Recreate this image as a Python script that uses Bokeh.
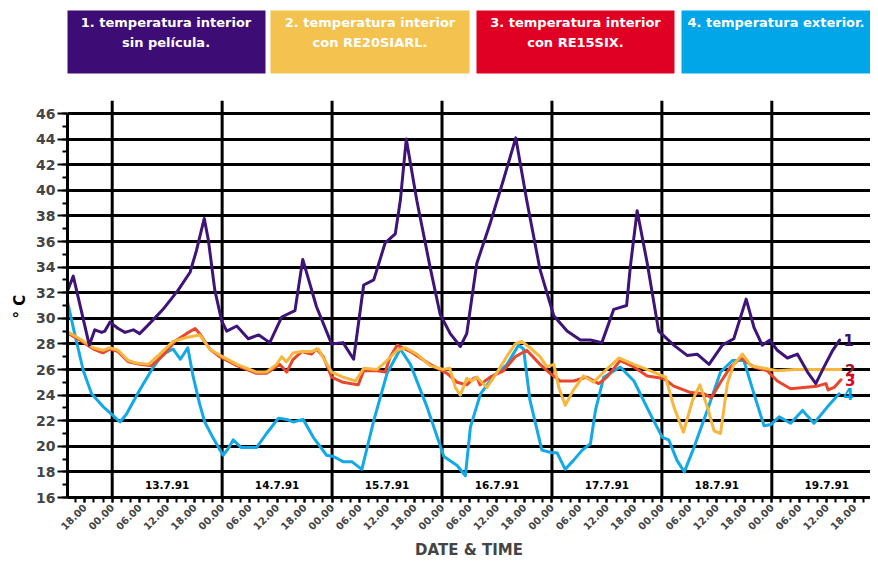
import math
from bokeh.plotting import figure
from bokeh.models import Range1d, FixedTicker, SingleIntervalTicker, Title
from bokeh.core.properties import value
from bokeh.embed import file_html
from bokeh.resources import INLINE

FONT = "DejaVu Sans"

# ---------------- data (hours from 13.7.91 00:00) ----------------
h1 = [-10.0, -8.5, -5.0, -3.8, -2.3, -1.6, -0.5, 1.3, 2.8, 4.6, 6.0, 8.2, 11.1, 14.4, 17.0, 18.4, 20.1, 21.0,
      22.4, 23.9, 25.0, 27.2, 29.7, 32.0, 34.4, 37.0, 39.9, 41.6, 44.6, 47.9, 50.4, 52.7, 54.9, 57.1, 59.6, 61.8,
      62.9, 64.2, 66.5, 69.4, 71.6, 73.8, 76.0, 77.4, 79.6, 82.5, 85.4, 88.1, 90.5, 93.4, 96.4, 99.3, 102.2,
      104.4, 106.9, 109.5, 112.3, 113.1, 114.6, 116.8, 119.3, 122.6, 125.5, 127.7, 130.3, 133.2, 135.7, 138.4,
      140.1, 141.9, 143.6, 145.2, 147.4, 149.6, 151.8, 153.6, 155.4, 157.3, 158.8]
t1 = [31.9, 33.3, 27.9, 29.1, 28.9, 29.0, 29.7, 29.2, 28.9, 29.1, 28.8, 29.6, 30.7, 32.2, 33.6, 35.3, 37.8, 36.1,
      32.2, 29.8, 29.0, 29.4, 28.4, 28.7, 28.1, 30.1, 30.6, 34.6, 30.9, 28.0, 28.1, 26.8, 32.6, 33.0, 35.9, 36.6,
      39.2, 44.0, 39.2, 34.0, 30.3, 28.8, 27.8, 28.8, 34.3, 37.4, 40.8, 44.1, 39.2, 33.8, 30.2, 29.0, 28.3,
      28.3, 28.1, 30.7, 31.0, 34.0, 38.4, 34.3, 29.0, 27.9, 27.1, 27.2, 26.4, 27.9, 28.4, 31.5,
      29.3, 27.9, 28.3, 27.5, 26.9, 27.2, 25.8, 24.9, 26.2, 27.5, 28.3]

h2 = [-10.0, -7.1, -4.1, -2.0, -0.5, 1.3, 3.5, 5.3, 7.9, 10.4, 13.3, 16.2, 19.1, 21.3, 23.6, 27.2, 31.5, 33.7,
      35.9, 37.0, 38.0, 39.5, 41.4, 43.5, 45.0, 46.1, 47.9, 50.4, 53.1, 54.9, 57.8, 60.0, 62.2, 64.0, 66.5, 69.4,
      72.3, 73.7, 74.9, 76.0, 77.4, 78.5, 79.6, 81.8, 83.9, 86.1, 88.0, 89.4, 91.2, 93.4, 94.9, 96.4, 97.5, 98.9,
      100.7, 102.9, 105.1, 107.3, 110.6, 113.9, 117.5, 120.8, 122.6, 124.7, 126.7, 128.3, 129.9, 131.4, 132.8,
      134.3, 135.7, 137.6, 139.4, 142.3, 145.2, 148.9, 155.4, 159.1]
t2 = [29.0, 28.4, 27.7, 27.5, 27.7, 27.5, 26.7, 26.5, 26.4, 27.2, 28.2, 28.5, 28.7, 27.6, 27.1, 26.4, 25.8, 25.8,
      26.4, 27.0, 26.6, 27.3, 27.4, 27.4, 27.6, 26.9, 25.8, 25.4, 25.1, 26.1, 26.0, 26.7, 27.5, 27.7, 27.2, 26.3,
      26.0, 26.1, 24.6, 24.0, 25.3, 25.1, 25.4, 24.6, 25.7, 27.0, 28.0, 28.2, 27.7, 27.0, 26.2, 26.4, 24.6, 23.2,
      24.4, 25.5, 25.0, 25.8, 26.9, 26.4, 25.9, 25.4, 23.1, 21.1, 23.6, 24.8, 23.1, 21.2, 21.0,
      24.9, 26.4, 27.2, 26.3, 26.1, 25.9, 26.0, 26.0, 26.0]

h3 = [-10.0, -7.1, -4.1, -2.0, -0.5, 1.3, 3.5, 6.0, 8.6, 11.1, 13.7, 16.2, 18.1, 19.1, 21.3, 23.5, 27.2, 31.5,
      33.7, 36.6, 38.1, 39.5, 41.4, 43.5, 44.6, 46.1, 47.9, 50.4, 53.7, 54.9, 57.8, 59.6, 60.7, 62.2, 65.1, 69.4,
      73.1, 75.3, 77.4, 78.9, 79.6, 80.3, 82.5, 85.4, 88.0, 90.5, 93.4, 95.6, 97.8, 100.7, 103.6, 106.2, 108.0,
      110.9, 113.9, 116.8, 120.4, 122.6, 126.3, 129.2, 130.8, 132.8, 135.0, 137.2, 140.1, 143.0, 145.2, 148.1,
      151.0, 153.9, 155.8, 156.3, 157.6, 159.1]
t3 = [28.9, 28.3, 27.6, 27.3, 27.6, 27.4, 26.6, 26.4, 26.3, 27.1, 28.2, 28.8, 29.2, 28.8, 27.6, 27.0, 26.3, 25.7,
      25.7, 26.4, 25.8, 26.8, 27.4, 27.2, 27.6, 27.0, 25.4, 25.0, 24.8, 25.9, 25.9, 25.8, 27.0, 27.9, 27.4, 26.4,
      25.7, 25.0, 24.8, 25.3, 25.4, 24.8, 25.4, 25.9, 27.0, 27.5, 26.4, 25.7, 25.1, 25.1, 25.4, 24.9, 25.4,
      26.7, 26.2, 25.5, 25.3, 24.7, 24.2, 24.1, 23.8, 25.0, 26.2, 26.9, 26.2, 25.9, 25.1, 24.5,
      24.6, 24.7, 24.9, 24.4, 24.6, 25.2]

h4 = [-10.0, -8.2, -6.3, -4.5, -2.0, -0.1, 1.7, 3.1, 6.0, 9.0, 11.1, 13.3, 14.9, 16.5, 17.7, 19.1, 20.2, 22.1,
      24.2, 25.3, 26.4, 28.2, 31.5, 33.7, 36.3, 38.1, 39.5, 41.7, 43.9, 46.8, 48.3, 50.4, 52.3, 54.5, 57.1, 60.0,
      62.9, 65.1, 68.7, 72.4, 75.3, 77.1, 78.2, 80.4, 83.3, 86.2, 88.7, 89.8, 91.2, 93.8, 96.0, 97.1, 98.9, 100.7,
      102.6, 104.4, 105.5, 107.3, 110.9, 113.9, 117.5, 120.1, 121.5, 123.3, 124.9, 127.0, 129.9, 132.8, 135.4,
      137.9, 140.1, 142.3, 143.8, 145.6, 148.1, 150.7, 153.2, 156.2, 158.7]
t4 = [31.7, 28.8, 25.9, 24.1, 23.1, 22.5, 21.9, 22.5, 24.4, 26.2, 27.2, 27.6, 26.8, 27.7, 25.4, 23.3, 21.9, 20.6,
      19.3, 19.8, 20.5, 19.9, 19.9, 21.0, 22.2, 22.1, 21.9, 22.1, 20.7, 19.3, 19.2, 18.8, 18.8, 18.2, 22.0, 25.7,
      27.6, 26.4, 23.1, 19.2, 18.5, 17.7, 21.5, 24.1, 25.5, 26.4, 27.9, 27.6, 23.6, 19.7, 19.5, 19.5, 18.2, 18.9,
      19.7, 20.2, 22.8, 25.4, 26.2, 25.1, 22.5, 20.7, 20.5, 18.9, 18.0, 19.9, 22.8, 25.8, 26.7,
      26.7, 24.1, 21.6, 21.7, 22.3, 21.8, 22.8, 21.8, 23.1, 24.1]

legend_line1 = ["1. temperatura interior", "2. temperatura interior", "3. temperatura interior",
                "4. temperatura exterior."]
legend_line2 = ["sin película.", "con RE20SIARL.", "con RE15SIX.", ""]
end_labels = ["1", "2", "3", "4"]
days = ["13.7.91", "14.7.91", "15.7.91", "16.7.91", "17.7.91", "18.7.91", "19.7.91"]
major_hours = list(range(-6, 168, 6))
minor_hours = list(range(-8, 168, 2))
day_bounds = list(range(0, 168, 24))

box_colors = ["#3E0C75", "#F4C24E", "#E00024", "#00A6E8"]
line_colors = ["#3F1478", "#F7B63E", "#E8472C", "#12A9E6"]
label_colors = ["#3E0C75", "#A3122C", "#E00024", "#00A6E8"]

# ---------------- layout (pixels) ----------------
W, H = 870, 561
BL = 67                   # left border (frame starts here)
FB = 497                  # frame bottom, pixels from top
BB = H - FB
PX_PER_H = 4.5807
PX_PER_DEG = 12.8
X0 = -(111.7 - BL) / PX_PER_H
X1 = X0 + (W - BL) / PX_PER_H
Y0 = 16
Y1 = Y0 + FB / PX_PER_DEG


def hx(fx):  # figure-pixel x -> hours (layout helper for header placement)
    return X0 + (fx - BL) / PX_PER_H


def vy(fy):  # figure-pixel y (from top) -> degrees
    return Y0 + (FB - fy) / PX_PER_DEG


p = figure(width=W, height=H, x_range=Range1d(X0, X1), y_range=Range1d(Y0, Y1),
           output_backend="svg", toolbar_location=None,
           min_border_left=BL, min_border_right=0, min_border_top=0, min_border_bottom=BB)
p.outline_line_color = None
p.xgrid.visible = False
p.ygrid.ticker = FixedTicker(ticks=list(range(18, 47, 2)))
p.ygrid.grid_line_color = "black"
p.ygrid.grid_line_width = 3

# vertical day separators (stop at the top of the temperature scale)
p.segment(x0=day_bounds, x1=day_bounds, y0=16, y1=47, line_color="black", line_width=3)

# ---- legend boxes in the header area ----
bl_px = [66, 270, 476, 681]
br_px = [265, 469, 674, 878]
box_left = [hx(v) for v in bl_px]
box_right = [hx(v) for v in br_px]
p.quad(left=box_left, right=box_right, top=vy(10), bottom=vy(73), color=box_colors, line_color=None)
cx = [hx((a + b) / 2) for a, b in zip(bl_px, br_px)]
cx[3] = hx((681 + 870) / 2)
p.text(x=cx, y=vy(22), text=legend_line1, text_align="center", text_baseline="middle",
       text_color="white", text_font=value(FONT), text_font_style="bold", text_font_size="13px")
p.text(x=cx, y=vy(42), text=legend_line2, text_align="center", text_baseline="middle",
       text_color="white", text_font=value(FONT), text_font_style="bold", text_font_size="13px")

ya = p.yaxis[0]
ya.bounds = (16, 46)
ya.ticker = SingleIntervalTicker(interval=2, num_minor_ticks=2)
ya.axis_line_width = 3
ya.major_tick_line_width = 2
ya.minor_tick_line_width = 2
ya.major_tick_out = 10
ya.major_tick_in = 0
ya.minor_tick_out = 5
ya.minor_tick_in = 0
ya.major_label_text_font = FONT
ya.major_label_text_font_style = "bold"
ya.major_label_text_font_size = "14px"
ya.major_label_standoff = 2

# y-axis title, placed beside the middle of the 16..46 scale
p.add_layout(Title(text="° C", align="left", offset=FB - 318, standoff=10,
                   text_font=FONT, text_font_style="bold", text_font_size="15px",
                   text_color="black"), "left")

xa = p.xaxis[0]
xa.ticker = FixedTicker(ticks=major_hours, minor_ticks=minor_hours)
xa.major_label_overrides = {hh: "%02d.00" % (hh % 24) for hh in major_hours}
xa.major_label_orientation = math.pi / 4
xa.axis_line_width = 3
xa.major_tick_line_width = 2
xa.minor_tick_line_width = 2
xa.major_tick_out = 5
xa.major_tick_in = 0
xa.minor_tick_out = 5
xa.minor_tick_in = 0
xa.major_label_text_font = FONT
xa.major_label_text_font_style = "bold"
xa.major_label_text_font_size = "10px"
xa.major_label_standoff = 3
xa.axis_label = "DATE & TIME"
xa.axis_label_text_font = FONT
xa.axis_label_text_font_style = "bold"
xa.axis_label_text_font_size = "15px"
xa.axis_label_standoff = 4

# day labels in the bottom strip
p.text(x=[12 + 24 * i for i in range(len(days))], y=17, text=days, text_align="center",
       text_baseline="middle", text_color="black", text_font=value(FONT),
       text_font_style="bold", text_font_size="10.5px")

series = [(h4, t4, line_colors[3]), (h3, t3, line_colors[2]), (h2, t2, line_colors[1]), (h1, t1, line_colors[0])]
for hh, tt, c in series:
    p.line(hh, tt, line_color=c, line_width=3, line_join="round", line_cap="round")

ends = [(h1, t1), (h2, t2), (h3, t3), (h4, t4)]
p.text(x=[e[0][-1] for e in ends], y=[e[1][-1] for e in ends], text=end_labels, x_offset=4,
       text_align="left", text_baseline="middle", text_color=label_colors,
       text_font=value(FONT), text_font_style="bold", text_font_size="15px")

open("out.html", "w").write(file_html(p, INLINE))
